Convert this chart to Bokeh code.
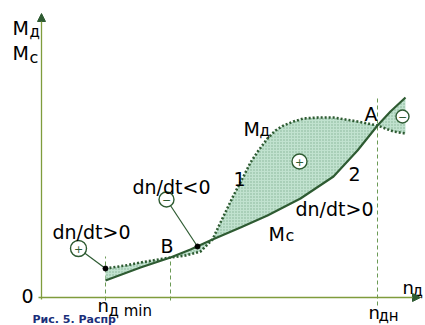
from bokeh.plotting import figure
from bokeh.models import Range1d, Arrow, NormalHead
from bokeh.core.properties import value
from bokeh.embed import file_html
from bokeh.resources import INLINE

# Static torque of the load, curve 2 (speed n, torque M)
mc_n = [64, 99, 129, 149, 171, 199, 226, 259, 292, 316, 336, 349, 364]
mc_m = [17, 30, 40, 48, 58, 70, 82, 99, 121, 147, 172, 186, 200]

# Motor torque, curve 1
md_n = [64, 84, 99, 129, 144, 159, 171, 179, 192, 201, 209, 217, 226, 234,
        242, 252, 262, 277, 292, 304, 316, 336, 352, 364]
md_m = [29, 32, 35, 40, 42, 46, 58, 75, 102, 119, 135, 147, 159, 167,
        172, 176, 179, 180, 180, 178, 176, 172, 166, 164]

# Characteristic speeds and operating points
n_min = 64
n_b, m_b = 129, 40
n_a, m_a = 336, 172
n_top = 200

LINE = "#2e5b32"
AXIS = "#7f9c3c"
DASH = "#6b9a55"
FILL = "#c1e2cf"
FONT = value("DejaVu Sans")

p = figure(width=425, height=325, x_range=Range1d(-41, 384), y_range=Range1d(-28, 297),
           output_backend="svg", toolbar_location=None, min_border=0,
           x_axis_location=None, y_axis_location=None)
p.grid.visible = False
p.outline_line_color = None
p.background_fill_color = "white"
p.border_fill_color = "white"

# Axes with arrow heads
p.add_layout(Arrow(end=NormalHead(size=8, fill_color=LINE, line_color=LINE),
                   x_start=0, y_start=-2, x_end=0, y_end=284,
                   line_color=AXIS, line_width=1.3))
p.add_layout(Arrow(end=NormalHead(size=8, fill_color=LINE, line_color=LINE),
                   x_start=-3, y_start=0, x_end=379, y_end=0,
                   line_color=AXIS, line_width=1.3))

# Dashed guides at n_min, B and n_nom
p.segment(x0=[n_min, n_b, n_a], y0=[-3, -3, -8], x1=[n_min, n_b, n_a], y1=[m_b + 1, m_b, n_top],
          line_color=DASH, line_width=1, line_dash="4 3")

# Shaded area between the two torques
p.patch(x=md_n + mc_n[::-1], y=md_m + mc_m[::-1], fill_color=FILL, line_color=None,
        hatch_pattern="dot", hatch_scale=3, hatch_color="#4f8d63", hatch_alpha=0.55)

p.line(mc_n, mc_m, line_color=LINE, line_width=2.2)
p.line(md_n, md_m, line_color=LINE, line_width=2.6, line_dash="2 2")

# Leader lines from the sign markers
p.segment(x0=[37, 125], y0=[49, 98], x1=[md_n[0], 156], y1=[md_m[0], 51],
          line_color=LINE, line_width=1.2)
p.scatter([md_n[0], 156], [md_m[0], 51], size=5, color="black")

# Sign markers
sx = [37, 125, 258, 361]
sy = [49, 98, 136, 181]
ss = ["+", "\u2212", "+", "\u2212"]
p.scatter(sx, sy, size=[16, 15, 15, 13], fill_color="white", line_color=LINE, line_width=1.4)
p.text(x=sx, y=sy, text=ss, text_align="center", text_baseline="middle",
       text_font=FONT, text_font_size="11px", text_color=LINE)


def label(x, y, s, size=19, color="black", style="normal", baseline="alphabetic"):
    p.text(x=[x], y=[y], text=[s], text_font=FONT, text_font_size=f"{size}px",
           text_color=color, text_font_style=style, text_baseline=baseline,
           text_align="left")


# Axis titles
label(-29, 270, "M")
label(-12, 266, "\u0434", 15)
label(-29, 245, "M")
label(-12, 240, "\u0441", 16)
label(361, 10, "n", 18)
label(371, 7, "\u0434", 15)
label(-20, 2, "0")
label(56, -8, "n", 18)
label(67, -13, "\u0434 min", 15)
label(327, -15, "n", 18)
label(337, -18, "\u0434\u043d", 15)

# Curve annotations
label(202, 169, "M")
label(218, 167, "\u0434", 15)
label(227, 64, "M")
label(244, 62, "\u0441", 16)
label(192, 119, "1")
label(307, 124, "2")
label(119, 52, "B")
label(323, 184, "A")
label(11, 66, "dn/dt>0")
label(91, 111, "dn/dt<0")
label(254, 89, "dn/dt>0")

# Caption along the bottom edge
label(-9, -22, "\u0420\u0438\u0441. 5. \u0420\u0430\u0441\u043f\u0440", 11, color="#1b2f7a",
      style="bold")

open("out.html", "w").write(file_html(p, INLINE))
